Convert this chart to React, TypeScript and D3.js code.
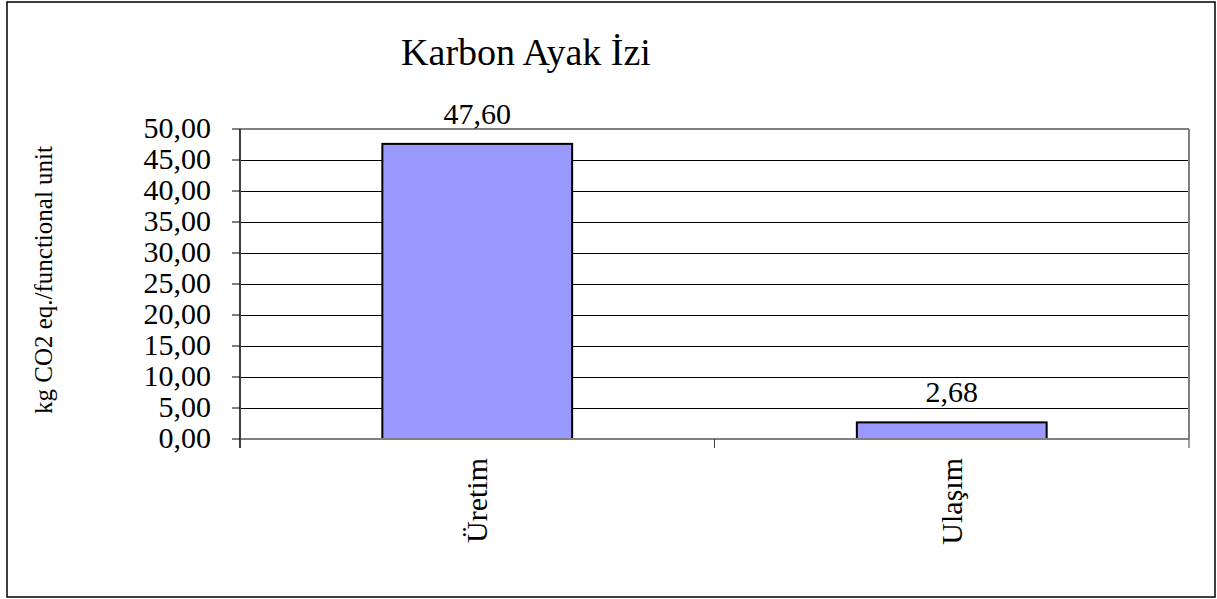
import React from "react";
import * as d3 from "d3";

const categories = ["Üretim", "Ulaşım"];
const values = [47.6, 2.68];
const valueLabels = ["47,60", "2,68"];
const yTicks = [0, 5, 10, 15, 20, 25, 30, 35, 40, 45, 50];
const title = "Karbon Ayak İzi";
const yTitle = "kg CO2 eq./functional unit";

const W = 1217;
const H = 599;
const plot = { left: 240, right: 1189, top: 129, bottom: 439 };
const FONT = "'Liberation Serif', 'Times New Roman', 'DejaVu Serif', serif";
const ts = (size: number): React.CSSProperties => ({ fontFamily: FONT, fontSize: size });

export default function App() {
  const x = d3.scaleBand<string>().domain(categories).range([plot.left, plot.right]).padding(0);
  const y = d3.scaleLinear().domain([0, 50]).range([plot.bottom, plot.top]);
  const fmt = (v: number) => d3.format(".2f")(v).replace(".", ",");
  const barW = x.step() * 0.4;
  const boundaries = [plot.left, ...categories.map((c) => (x(c) as number) + x.step())];

  return (
    <svg width={W} height={H} style={{ position: "absolute", left: 0, top: 0, background: "#fff" }}>
      <rect x={7} y={2} width={1208} height={595} fill="#fff" stroke="#000" strokeWidth={1.5} />
      <text x={526} y={65} textAnchor="middle" style={ts(38)} fill="#000">{title}</text>
      {yTicks.map((t) => (
        <line key={"g" + t} x1={plot.left} x2={plot.right} y1={Math.round(y(t)) + 0.5} y2={Math.round(y(t)) + 0.5} stroke="#000" strokeWidth={1} />
      ))}
      <line x1={plot.left} x2={plot.right} y1={plot.top} y2={plot.top} stroke="#808080" strokeWidth={2} />
      <line x1={plot.right} x2={plot.right} y1={plot.top} y2={plot.bottom} stroke="#808080" strokeWidth={2} />
      {categories.map((c, i) => {
        const cx = (x(c) as number) + x.step() / 2;
        return (
          <g key={c}>
            <rect x={cx - barW / 2} y={y(values[i])} width={barW} height={y(0) - y(values[i])} fill="#9999FF" stroke="#000" strokeWidth={2} />
            <text x={cx} y={y(values[i]) - 20} textAnchor="middle" style={ts(30)} fill="#000">{valueLabels[i]}</text>
            <text transform={`translate(${cx + 10},${plot.bottom + 19}) rotate(-90)`} textAnchor="end" style={ts(30)} fill="#000">{c}</text>
          </g>
        );
      })}
      <line x1={plot.left} x2={plot.right} y1={plot.bottom} y2={plot.bottom} stroke="#808080" strokeWidth={2} />
      <line x1={plot.left} x2={plot.left} y1={plot.top} y2={plot.bottom + 9} stroke="#404040" strokeWidth={2} />
      {boundaries.map((b, i) => (
        <line key={"xt" + i} x1={b} x2={b} y1={plot.bottom} y2={plot.bottom + 9} stroke="#404040" strokeWidth={1} />
      ))}
      {yTicks.map((t) => (
        <g key={"yt" + t}>
          <line x1={plot.left - 8} x2={plot.left} y1={y(t)} y2={y(t)} stroke="#000" strokeWidth={1} />
          <text x={211} y={y(t) + 9} textAnchor="end" style={ts(30)} fill="#000">{fmt(t)}</text>
        </g>
      ))}
      <text transform={`translate(52,${(plot.top + plot.bottom) / 2 - 4}) rotate(-90)`} textAnchor="middle" style={ts(25)} fill="#000">{yTitle}</text>
    </svg>
  );
}
